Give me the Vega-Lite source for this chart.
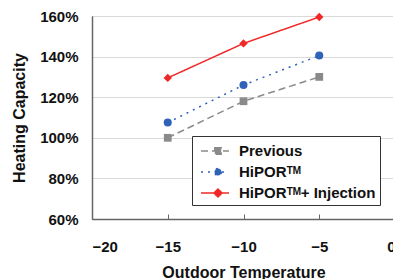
{
  "$schema": "https://vega.github.io/schema/vega-lite/v6.json",
  "width": 303,
  "height": 203,
  "autosize": {"type": "none"},
  "padding": {"left": 92, "top": 16, "right": 0, "bottom": 60},
  "background": "white",
  "config": {
    "font": "Liberation Sans",
    "view": {"stroke": "#8c8c8c", "strokeWidth": 1}
  },
  "data": {
    "values": [
      {"temp": -15, "cap": 1.00, "series": "Previous"},
      {"temp": -10, "cap": 1.18, "series": "Previous"},
      {"temp": -5, "cap": 1.30, "series": "Previous"},
      {"temp": -15, "cap": 1.075, "series": "HiPORᵀᴹ"},
      {"temp": -10, "cap": 1.26, "series": "HiPORᵀᴹ"},
      {"temp": -5, "cap": 1.405, "series": "HiPORᵀᴹ"},
      {"temp": -15, "cap": 1.295, "series": "HiPORᵀᴹ+ Injection"},
      {"temp": -10, "cap": 1.465, "series": "HiPORᵀᴹ+ Injection"},
      {"temp": -5, "cap": 1.595, "series": "HiPORᵀᴹ+ Injection"}
    ]
  },
  "encoding": {
    "x": {
      "field": "temp", "type": "quantitative",
      "scale": {"domain": [-20, 0], "nice": false},
      "axis": {
        "values": [-20, -15, -10, -5, 0],
        "title": "Outdoor Temperature",
        "grid": false,
        "domainColor": "#666", "domainWidth": 1.5,
        "tickColor": "#666", "tickSize": -5, "tickWidth": 1,
        "labelFont": "Liberation Sans", "labelFontSize": 15, "labelFontWeight": "bold", "labelColor": "#111",
        "labelPadding": 25,
        "titleFont": "Liberation Sans", "titleFontSize": 16, "titleFontWeight": "bold", "titleColor": "#111",
        "titlePadding": 10
      }
    },
    "y": {
      "field": "cap", "type": "quantitative",
      "scale": {"domain": [0.6, 1.6], "nice": false},
      "axis": {
        "values": [0.6, 0.8, 1.0, 1.2, 1.4, 1.6],
        "format": ".0%",
        "title": "Heating Capacity",
        "grid": true, "gridColor": "#d9d9d9", "gridWidth": 1,
        "domainColor": "#666", "domainWidth": 1.5,
        "ticks": false,
        "labelFont": "Liberation Sans", "labelFontSize": 15, "labelFontWeight": "bold", "labelColor": "#111",
        "labelPadding": 14,
        "titleFont": "Liberation Sans", "titleFontSize": 16, "titleFontWeight": "bold", "titleColor": "#111",
        "titlePadding": 12
      }
    },
    "color": {
      "field": "series", "type": "nominal",
      "scale": {
        "domain": ["Previous", "HiPORᵀᴹ", "HiPORᵀᴹ+ Injection"],
        "range": ["#8a8a8a", "#2f62b8", "#f02828"]
      }
    }
  },
  "layer": [
    {
      "mark": {"type": "line", "strokeWidth": 1.5},
      "encoding": {
        "strokeDash": {
          "field": "series", "type": "nominal",
          "scale": {
            "domain": ["Previous", "HiPORᵀᴹ", "HiPORᵀᴹ+ Injection"],
            "range": [[7, 4], [2, 5], [1, 0]]
          }
        },
        "color": {
          "field": "series", "type": "nominal",
          "legend": {
            "title": null,
            "orient": "none",
            "legendX": 100,
            "legendY": 120,
            "direction": "vertical",
            "padding": 4,
            "strokeColor": "#333",
            "fillColor": "white",
            "labelFont": "Liberation Sans",
            "labelFontSize": 15,
            "labelFontWeight": "bold",
            "labelColor": "#111",
            "labelOffset": 21,
            "rowPadding": 2,
            "symbolSize": 400,
            "symbolStrokeWidth": 1.5,
            "encode": {
              "symbols": {
                "update": {
                  "shape": {"signal": "datum.value == 'Previous' ? 'M-0.6,0H2.2M0.78,-0.32H1.42V0.32H0.78Z' : datum.value == 'HiPORᵀᴹ' ? 'M-0.6,0H2.2M1.45,0A0.35,0.35,0,1,1,0.75,0A0.35,0.35,0,1,1,1.45,0Z' : 'M-0.6,0H2.2M1.1,-0.4L1.5,0L1.1,0.4L0.7,0Z'"},
                  "fill": {"signal": "datum.value == 'Previous' ? '#8a8a8a' : datum.value == 'HiPORᵀᴹ' ? '#2f62b8' : '#f02828'"},
                  "fillOpacity": {"value": 1}
                }
              }
            }
          }
        }
      }
    },
    {
      "transform": [{"filter": "datum.series == 'Previous'"}],
      "mark": {"type": "point", "shape": "square", "filled": true, "opacity": 1, "size": 60},
      "encoding": {"color": {"field": "series", "type": "nominal", "legend": null}}
    },
    {
      "transform": [{"filter": "datum.series == 'HiPORᵀᴹ'"}],
      "mark": {"type": "point", "shape": "circle", "filled": true, "opacity": 1, "size": 65},
      "encoding": {"color": {"field": "series", "type": "nominal", "legend": null}}
    },
    {
      "transform": [{"filter": "datum.series == 'HiPORᵀᴹ+ Injection'"}],
      "mark": {"type": "point", "shape": "diamond", "filled": true, "opacity": 1, "size": 70},
      "encoding": {"color": {"field": "series", "type": "nominal", "legend": null}}
    }
  ]
}
